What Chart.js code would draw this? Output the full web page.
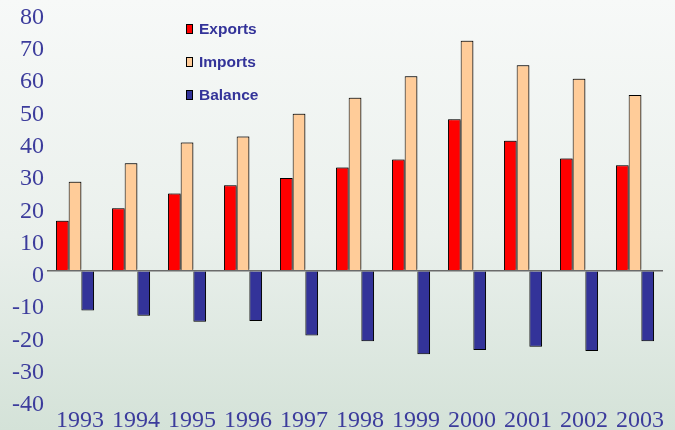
<!DOCTYPE html>
<html lang="en">
<head>
    <meta charset="UTF-8">
    <title>Exports, Imports and Balance 1993-2003</title>
    <script src="https://cdn.jsdelivr.net/npm/chart.js"></script>
    <style>
        html, body { margin: 0; padding: 0; }
        body {
            width: 675px;
            height: 430px;
            overflow: hidden;
            background: linear-gradient(to bottom, #f7f9f8 0%, #eaf0ec 55%, #d4e2d8 100%);
        }
        canvas { display: block; }
    </style>
</head>
<body>
    <canvas id="tradeChart" width="675" height="430"></canvas>

    <script>
        // Data
        const years = ['1993', '1994', '1995', '1996', '1997', '1998', '1999', '2000', '2001', '2002', '2003'];
        const exportsData = [15.5, 19.4, 24.0, 26.5, 28.8, 32.0, 34.5, 47.0, 40.3, 34.8, 32.7];
        const importsData = [27.6, 33.3, 39.8, 41.6, 48.7, 53.6, 60.3, 71.3, 63.7, 59.5, 54.5];
        const balanceData = [-12.3, -13.9, -15.8, -15.5, -20.0, -21.8, -25.8, -24.5, -23.5, -24.8, -21.8];
        const yMin = -40;
        const yMax = 80;
        const yStep = 10;

        const labelBlue = '#3c3c9c';

        // Legend drawn as a vertical list inside the plot
        const boxLegend = {
            id: 'boxLegend',
            afterDraw(chart) {
                const ctx = chart.ctx;
                const rows = [29, 62, 95];
                ctx.save();
                ctx.font = 'bold 15.5px "Liberation Sans", Arial, sans-serif';
                ctx.textBaseline = 'middle';
                ctx.textAlign = 'left';
                chart.data.datasets.forEach((ds, i) => {
                    const y = rows[i];
                    ctx.fillStyle = ds.backgroundColor;
                    ctx.fillRect(186, y - 5, 7, 10);
                    ctx.strokeStyle = '#000';
                    ctx.lineWidth = 1;
                    ctx.strokeRect(186.5, y - 4.5, 6, 9);
                    ctx.fillStyle = '#333399';
                    ctx.fillText(ds.label, 199, y + 1);
                });
                ctx.restore();
            }
        };

        // soft grey shadow round the bars
        const barShadow = {
            id: 'barShadow',
            beforeDatasetsDraw(chart) {
                const ctx = chart.ctx;
                ctx.save();
                ctx.shadowColor = 'rgba(0,0,0,0.35)';
                ctx.shadowBlur = 1;
                ctx.shadowOffsetX = 1;
                ctx.shadowOffsetY = -1;
            },
            afterDatasetsDraw(chart) {
                chart.ctx.restore();
            }
        };

        const chart = new Chart(document.getElementById('tradeChart'), {
            type: 'bar',
            data: {
                labels: years,
                datasets: [
                    { label: 'Exports', data: exportsData, backgroundColor: '#ff0000' },
                    { label: 'Imports', data: importsData, backgroundColor: '#ffcc99' },
                    { label: 'Balance', data: balanceData, backgroundColor: '#333399' }
                ]
            },
            options: {
                responsive: false,
                animation: false,
                devicePixelRatio: 1,
                layout: { padding: { top: 12, right: 12, bottom: 0, left: 0 } },
                datasets: {
                    bar: {
                        borderColor: '#000000',
                        borderWidth: 1,
                        categoryPercentage: 0.68,
                        barPercentage: 1
                    }
                },
                plugins: {
                    legend: { display: false },
                    tooltip: { enabled: false }
                },
                scales: {
                    x: {
                        grid: { display: false, drawTicks: false },
                        border: { display: false },
                        ticks: {
                            color: labelBlue,
                            font: { family: '"Liberation Serif", "Times New Roman", serif', size: 24, lineHeight: 0.8 },
                            padding: 11,
                            labelOffset: 5,
                            maxRotation: 0,
                            autoSkip: false
                        },
                        afterFit(scale) { scale.height = 30; }
                    },
                    y: {
                        min: yMin,
                        max: yMax,
                        grid: {
                            drawTicks: false,
                            lineWidth: 1.5,
                            color: (c) => c.tick && c.tick.value === 0 ? '#6b6b6b' : 'rgba(0,0,0,0)'
                        },
                        border: { display: false },
                        ticks: {
                            stepSize: yStep,
                            color: labelBlue,
                            font: { family: '"Liberation Serif", "Times New Roman", serif', size: 24, lineHeight: 0.8 },
                            padding: 3,
                            labelOffset: 5
                        },
                        afterFit(scale) { scale.width = 47; }
                    }
                }
            },
            plugins: [barShadow, boxLegend]
        });
    </script>
</body>
</html>
